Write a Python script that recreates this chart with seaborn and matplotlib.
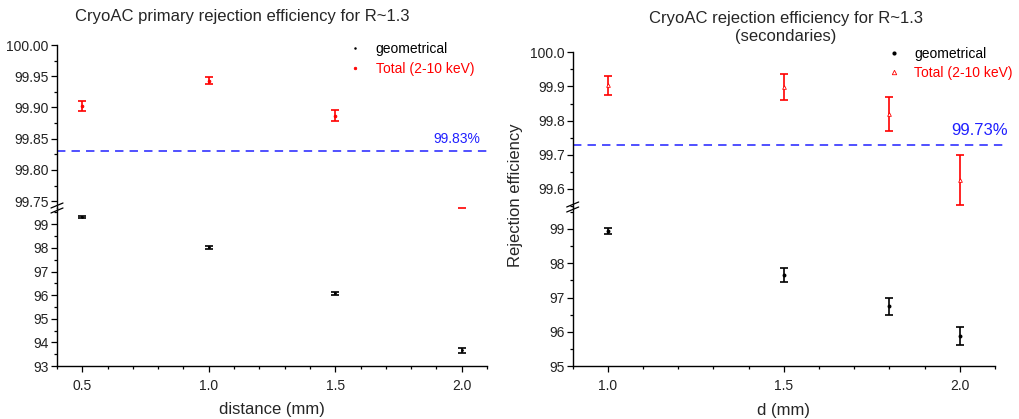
import matplotlib
matplotlib.use("Agg")
import matplotlib.pyplot as plt
import matplotlib.transforms as mtransforms
from matplotlib.lines import Line2D
from matplotlib.ticker import MultipleLocator, FormatStrFormatter
import numpy as np
import pandas as pd
import seaborn as sns

# ---- data -------------------------------------------------------------
# primary rejection efficiency vs distance
primary_d = [0.5, 1.0, 1.5, 2.0]
primary_geo = [99.30, 98.03, 96.07, 93.67]
primary_geo_err = [0.04, 0.06, 0.07, 0.10]
primary_tot = [99.902, 99.943, 99.887, 99.728]
primary_tot_err = [0.008, 0.006, 0.009, 0.0115]
primary_limit = 99.83

# secondaries rejection efficiency vs d
sec_d = [1.0, 1.5, 1.8, 2.0]
sec_geo = [98.94, 97.66, 96.75, 95.88]
sec_geo_err = [0.10, 0.20, 0.25, 0.27]
sec_tot = [99.903, 99.898, 99.819, 99.627]
sec_tot_err = [0.027, 0.038, 0.050, 0.073]
sec_limit = 99.73

series_labels = ["geometrical", "Total (2-10 keV)"]

# ---- style ------------------------------------------------------------
sns.set_theme(style="ticks")
plt.rcParams["font.family"] = ["Liberation Sans", "DejaVu Sans"]
plt.rcParams.update({
    "axes.edgecolor": "black",
    "axes.linewidth": 1.0,
    "xtick.color": "black",
    "ytick.color": "black",
    "xtick.labelcolor": "#222222",
    "ytick.labelcolor": "#222222",
    "xtick.direction": "out",
    "ytick.direction": "out",
    "xtick.major.size": 4.0,
    "ytick.major.size": 4.5,
    "xtick.minor.size": 2.5,
    "ytick.minor.size": 2.5,
    "xtick.major.width": 0.9,
    "ytick.major.width": 0.9,
    "xtick.minor.width": 0.9,
    "ytick.minor.width": 0.9,
    "xtick.labelsize": 10,
    "ytick.labelsize": 10,
})

W, H = 1020, 419
fig = plt.figure(figsize=(W / 100, H / 100), dpi=100)


def px_axes(x0, x1, y_top, y_bot):
    """Add axes from pixel extents measured from the top-left corner."""
    return fig.add_axes([x0 / W, 1 - y_bot / H, (x1 - x0) / W, (y_bot - y_top) / H])


RED = "#ff0000"
BLUE = "#2020ff"
ERR_KW = dict(fmt="none", elinewidth=1.2, capthick=1.2, capsize=2.6)


def draw_panel(ax_top, ax_bot, x, geo, geo_err, tot, tot_err, tot_marker, geo_size, tot_size):
    df = pd.DataFrame({
        "x": list(x) * 2,
        "y": list(geo) + list(tot),
        "err": list(geo_err) + list(tot_err),
        "series": [series_labels[0]] * len(x) + [series_labels[1]] * len(x),
    })
    sub_g = df[df["series"] == series_labels[0]]
    sub_t = df[df["series"] == series_labels[1]]
    # geometrical values live on the lower half of the broken axis, totals on the upper
    ax_bot.errorbar(sub_g["x"], sub_g["y"], yerr=sub_g["err"], ecolor="black", zorder=3, **ERR_KW)
    sns.scatterplot(data=sub_g, x="x", y="y", ax=ax_bot, color="black", marker="o",
                    s=geo_size, linewidth=0, zorder=4, legend=False)
    ax_top.errorbar(sub_t["x"], sub_t["y"], yerr=sub_t["err"], ecolor=RED, zorder=3, **ERR_KW)
    sns.scatterplot(data=sub_t, x="x", y="y", ax=ax_top, marker=tot_marker, s=tot_size,
                    facecolor="white" if tot_marker == "^" else RED,
                    edgecolor=RED, linewidth=0.6, zorder=4, legend=False)
    for ax in (ax_top, ax_bot):
        ax.set_xlabel("")
        ax.set_ylabel("")


def style_pair(ax_top, ax_bot, xlim, xmajor, ylim_top, ylim_bot,
               top_major, top_minor, top_fmt, bot_major, bot_minor, ylabel_pad):
    for ax in (ax_top, ax_bot):
        ax.set_xlim(*xlim)
        ax.xaxis.set_major_locator(MultipleLocator(xmajor))
        ax.xaxis.set_minor_locator(MultipleLocator(0.1))
        ax.xaxis.set_major_formatter(FormatStrFormatter("%.1f"))
        ax.spines["top"].set_visible(False)
        ax.spines["right"].set_visible(False)
        ax.patch.set_alpha(0)
        ax.tick_params(axis="y", which="both", pad=ylabel_pad)
        ax.tick_params(axis="x", which="both", pad=5)
    ax_top.set_ylim(*ylim_top)
    ax_bot.set_ylim(*ylim_bot)
    ax_top.spines["bottom"].set_visible(False)
    ax_top.tick_params(axis="x", which="both", bottom=False, labelbottom=False)
    ax_top.yaxis.set_major_locator(MultipleLocator(top_major))
    ax_top.yaxis.set_minor_locator(MultipleLocator(top_minor))
    ax_top.yaxis.set_major_formatter(FormatStrFormatter(top_fmt))
    ax_bot.yaxis.set_major_locator(MultipleLocator(bot_major))
    ax_bot.yaxis.set_minor_locator(MultipleLocator(bot_minor))
    ax_bot.yaxis.set_major_formatter(FormatStrFormatter("%d"))


def break_marks(ax_bot):
    """Two short slanted strokes across the left spine where the axis is broken."""
    corner = ax_bot.transAxes.transform((0, 1))
    for dy in (-2.5, 2.5):
        stroke = Line2D(np.array([-6, 6]) / 100, np.array([-2.5, 2.5]) / 100,
                        color="black", lw=0.9, clip_on=False,
                        transform=mtransforms.Affine2D().translate(corner[0] / 100,
                                                                   corner[1] / 100 - dy / 100)
                        + fig.dpi_scale_trans)
        fig.add_artist(stroke)


# ---- left panel: primary ----------------------------------------------
axL_top = px_axes(57, 487, 45, 208)
axL_bot = px_axes(57, 487, 208, 366)
draw_panel(axL_top, axL_bot, primary_d, primary_geo, primary_geo_err,
           primary_tot, primary_tot_err, "o", 4, 4)
style_pair(axL_top, axL_bot, (0.4, 2.1), 0.5, (99.739, 100.0), (93, 99.69),
           0.05, 0.025, "%.2f", 1, 0.5, 1.5)
axL_top.axhline(primary_limit, color=BLUE, lw=1.1, ls=(0, (5.5, 4)), zorder=2)
axL_top.annotate(f"{primary_limit:.2f}%", xy=(1, primary_limit),
                 xycoords=("axes fraction", "data"), xytext=(-5, 9),
                 textcoords="offset points", ha="right", va="center",
                 color=BLUE, fontsize=10)
axL_bot.set_xlabel("distance (mm)", fontsize=12, labelpad=7)

# ---- right panel: secondaries -----------------------------------------
axR_top = px_axes(572.7, 995, 52.3, 207)
axR_bot = px_axes(572.7, 995, 207, 366.3)
draw_panel(axR_top, axR_bot, sec_d, sec_geo, sec_geo_err,
           sec_tot, sec_tot_err, "^", 8, 7)
style_pair(axR_top, axR_bot, (0.9, 2.1), 0.5, (99.547, 100.0), (95, 99.64),
           0.1, 0.05, "%.1f", 1, 0.5, 1.0)
axR_top.axhline(sec_limit, xmin=0, xmax=1.028, color=BLUE, lw=1.1,
                ls=(0, (5.5, 4)), zorder=2, clip_on=False)
axR_top.annotate(f"{sec_limit:.2f}%", xy=(1, sec_limit),
                 xycoords=("axes fraction", "data"), xytext=(9, 10),
                 textcoords="offset points", ha="right", va="center",
                 color=BLUE, fontsize=12)
axR_bot.set_xlabel("d (mm)", fontsize=12, labelpad=7)

break_marks(axL_bot)
break_marks(axR_bot)

# ---- titles and shared labels -----------------------------------------
fig.text(242 / W, 1 - 17 / H, "CryoAC primary rejection efficiency for R~1.3",
         ha="center", va="center", fontsize=12)
fig.text(786 / W, 1 - 28 / H, "CryoAC rejection efficiency for R~1.3\n(secondaries)",
         ha="center", va="center", fontsize=12, multialignment="center", linespacing=1.25)
fig.text(516 / W, 1 - 195 / H, "Rejection efficiency", rotation=90,
         ha="center", va="center", fontsize=12)


# ---- legends ------------------------------------------------------------
def legend_handles(tot_marker, geo_ms, tot_ms):
    return [
        Line2D([], [], ls="none", marker="o", ms=geo_ms, color="black", mew=0),
        Line2D([], [], ls="none", marker=tot_marker, ms=tot_ms,
               mfc="white" if tot_marker == "^" else RED, mec=RED, mew=0.6),
    ]


axL_top.legend(legend_handles("o", 1.8, 1.8), series_labels, loc="upper left",
               bbox_to_anchor=(348 / W, 1 - 42 / H), bbox_transform=fig.transFigure,
               frameon=False, fontsize=10, handlelength=1.0, handletextpad=1.0,
               borderpad=0, borderaxespad=0, labelspacing=0.4,
               labelcolor=["black", RED])
axR_top.legend(legend_handles("^", 3.0, 3.2), series_labels, loc="upper left",
               bbox_to_anchor=(887 / W, 1 - 47 / H), bbox_transform=fig.transFigure,
               frameon=False, fontsize=10, handlelength=1.0, handletextpad=0.95,
               borderpad=0, borderaxespad=0, labelspacing=0.35,
               labelcolor=["black", RED])

fig.savefig("out.png", dpi=100)
